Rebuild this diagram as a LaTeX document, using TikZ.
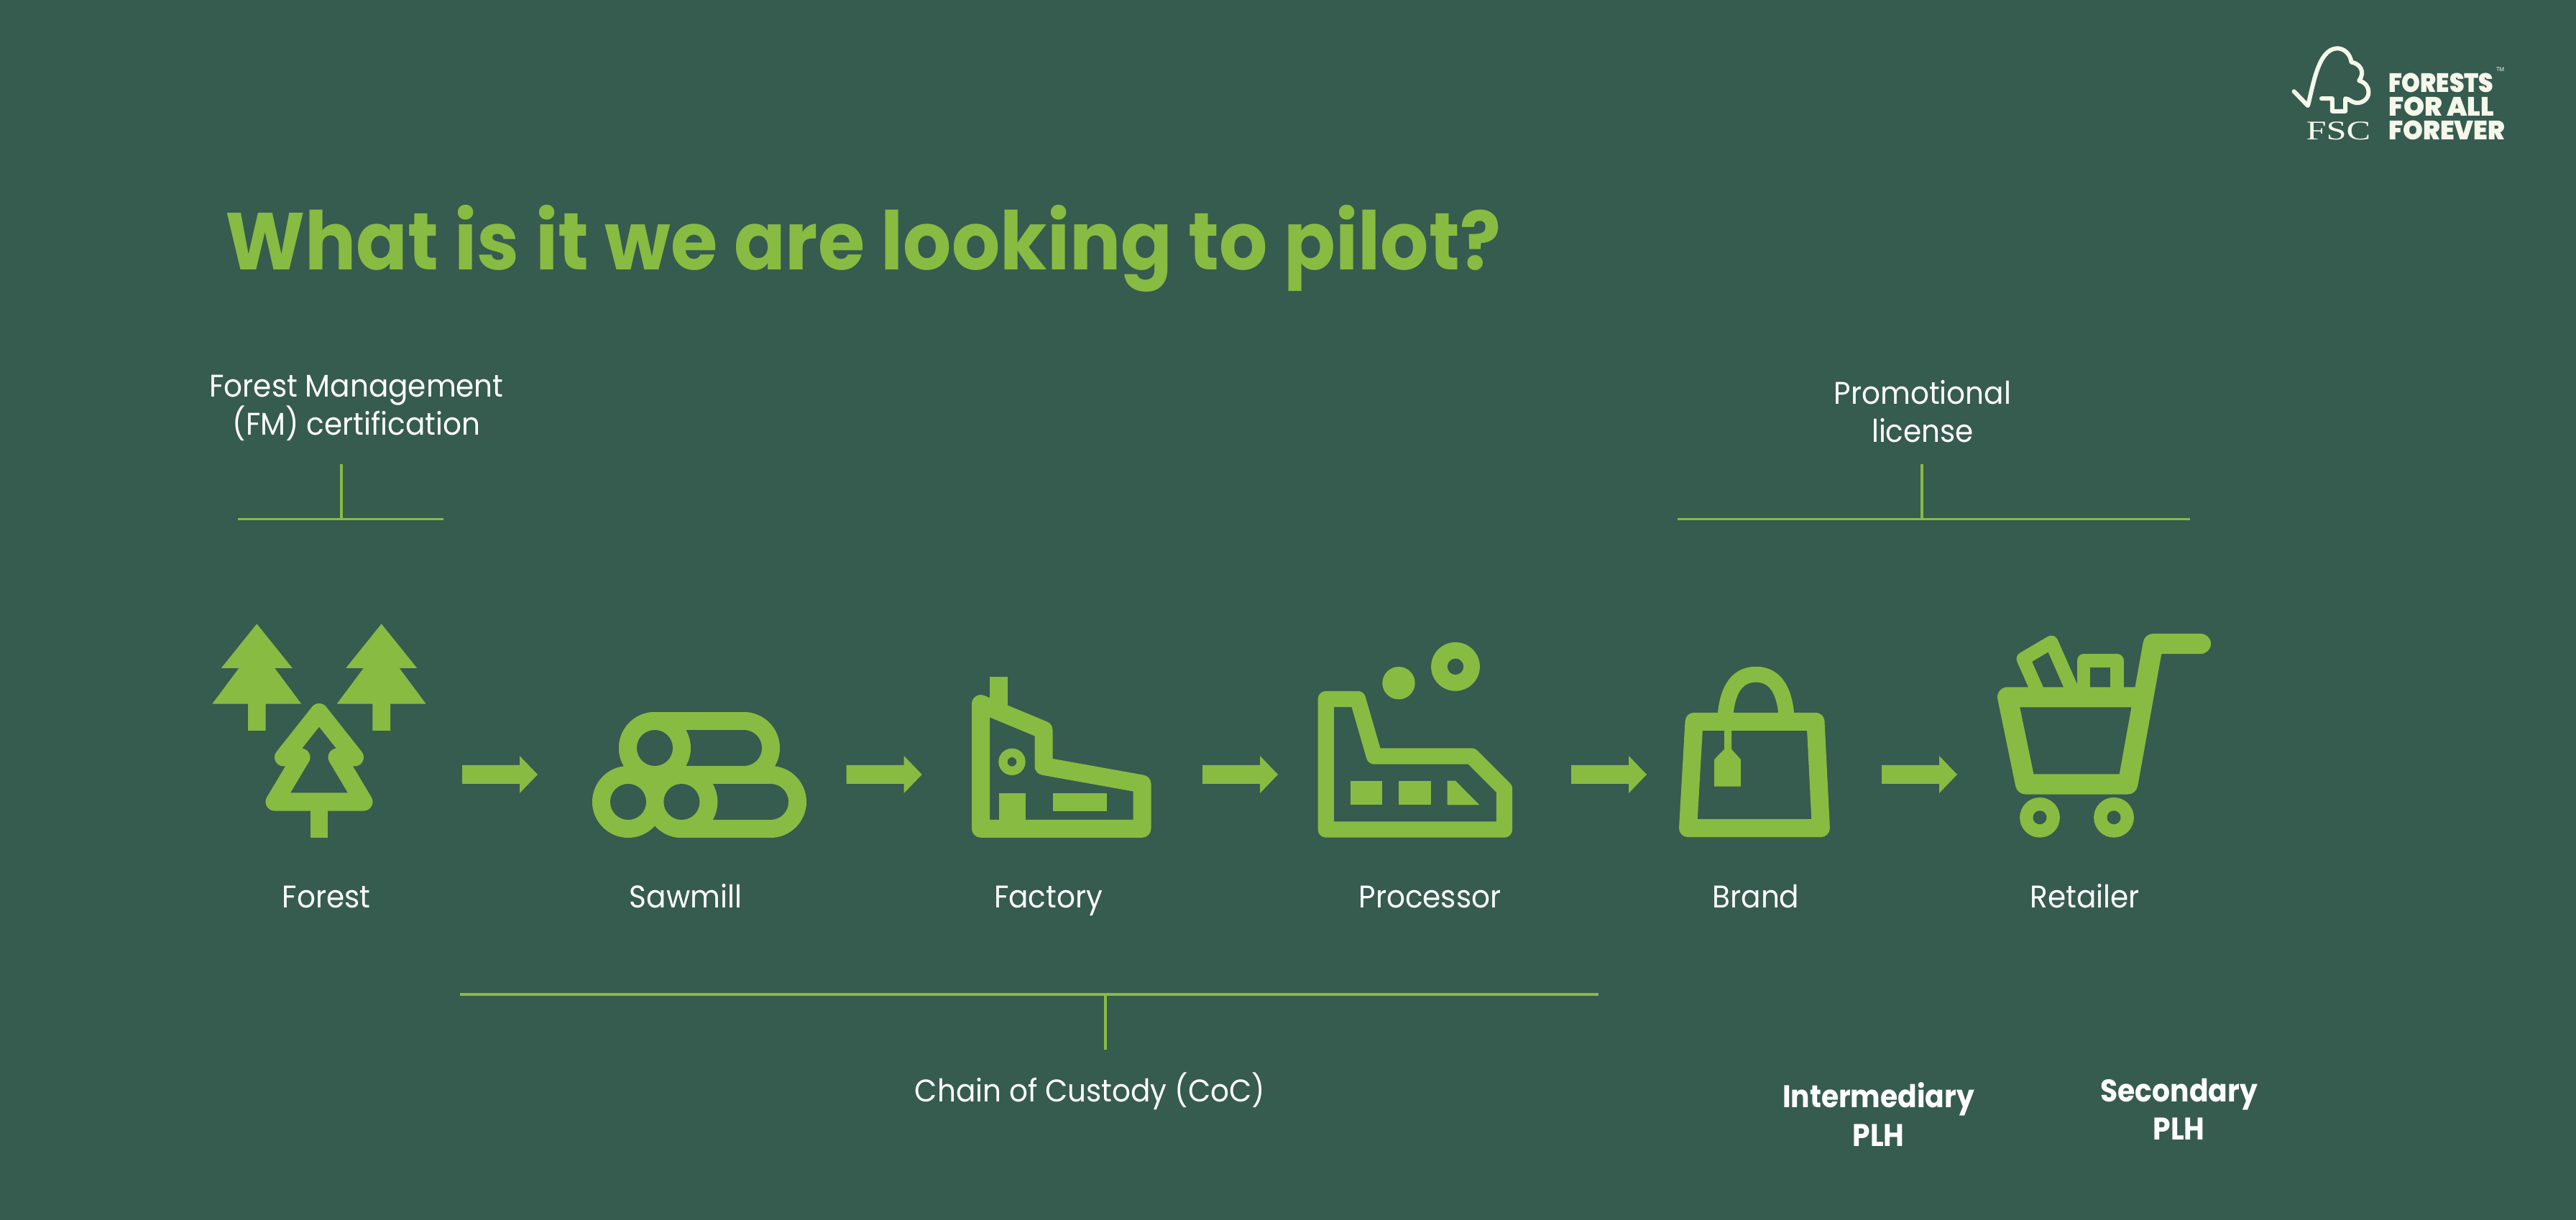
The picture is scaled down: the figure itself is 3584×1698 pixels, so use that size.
\documentclass[tikz,border=0pt]{standalone}
\usepackage{fontspec}
\setmainfont{Poppins}[FakeStretch=0.93]
\newfontfamily\titlefont{Poppins}[FakeStretch=0.94]
\newfontfamily\strongfont{Poppins}[FakeStretch=0.9]
\newfontfamily\logofont{Poppins Black}
\newfontfamily\fscfont{Liberation Serif}
\definecolor{bg}{HTML}{365B4F}
\definecolor{lime}{HTML}{88BB42}
\definecolor{logow}{HTML}{F4F7EA}
\tikzset{
  bare/.style={inner sep=0pt,outer sep=0pt},
  label/.style={bare,text=white,align=center,font=\fontsize{12.4}{15.25}\selectfont},
  oneline/.style={label,anchor=base},
  strong/.style={bare,text=white,align=center,font=\strongfont\fontsize{12.4}{15.25}\selectfont\bfseries},
  rule/.style={draw=lime,line width=1.05pt},
  ico/.style={draw=lime,line join=round,line cap=round},
  solid/.style={fill=lime,draw=none},
  hole/.style={fill=bg,draw=none},
  flow/.style={fill=lime,draw=none},
  logoln/.style={draw=logow,line width=1.7pt,line join=round,line cap=round},
  logotx/.style={bare,anchor=base west,text=logow,font=\logofont\fontsize{10.5}{11}\selectfont},
}
\newcommand{\arrowat}[2]{\fill[flow] (#1,#2-13)--(#1+80,#2-13)--(#1+80,#2-26)--(#1+105,#2)--(#1+80,#2+26)--(#1+80,#2+13)--(#1,#2+13)--cycle;}
\newcommand{\pine}[1]{\fill[solid] (#1,868.3)--(#1+49.6,930)--(#1+25,930)--(#1+62,979.7)--(#1+12.3,979.7)--(#1+12.3,1017)--(#1-12.3,1017)--(#1-12.3,979.7)--(#1-62,979.7)--(#1-25,930)--(#1-49.6,930)--cycle;}
\begin{document}
\begin{tikzpicture}[x=0.01cm,y=-0.01cm]
\fill[bg] (0,0) rectangle (3584,1698);
\useasboundingbox (0,0) rectangle (3584,1698);

% title
\node[bare,anchor=base west,text=lime,font=\titlefont\fontsize{32}{40}\selectfont\bfseries] (title) at (313,376) {What is it we are looking to pilot?};

% brackets
\coordinate (fmL) at (331,722.5); \coordinate (fmR) at (617,722.5); \coordinate (fmM) at (475,722.5); \coordinate (fmT) at (475,646);
\draw[rule] (fmL)--(fmR); \draw[rule] (fmM)--(fmT);
\coordinate (plL) at (2334,722.5); \coordinate (plR) at (3047,722.5); \coordinate (plM) at (2674,722.5); \coordinate (plT) at (2674,646);
\draw[rule] (plL)--(plR); \draw[rule] (plM)--(plT);
\coordinate (ccL) at (640,1384); \coordinate (ccR) at (2224,1384); \coordinate (ccM) at (1538,1384); \coordinate (ccB) at (1538,1461);
\draw[rule] (ccL)--(ccR); \draw[rule] (ccM)--(ccB);

% labels
\node[label] (fm) at (496,568) {Forest Management\\(FM) certification};
\node[label] (promo) at (2675,572.5) {Promotional\\license};
\node[oneline] (forest) at (454,1263.3) {Forest};
\node[oneline] (sawmill) at (954,1263.3) {Sawmill};
\node[oneline] (factory) at (1458.6,1263.3) {Factory};
\node[oneline] (processor) at (1989.5,1263.3) {Processor};
\node[oneline] (brand) at (2443,1263.3) {Brand};
\node[oneline] (retailer) at (2900.7,1263.3) {Retailer};
\node[oneline] (coc) at (1516.4,1533.3) {Chain of Custody (CoC)};
\node[strong] (inter) at (2613.6,1551) {Intermediary\\PLH};
\node[strong] (second) at (3031.7,1544) {Secondary\\PLH};

% arrows
\arrowat{643}{1078}
\arrowat{1177.7}{1078}
\arrowat{1673}{1078}
\arrowat{2186}{1078}
\arrowat{2618}{1078}

% forest
\pine{357.3}
\pine{530.7}
\draw[ico,line width=7.11pt] (444,991.5)--(394.5,1054)--(419,1054)--(382,1116)--(506,1116)--(469,1054)--(493.5,1054)--cycle;
\fill[solid] (431.6,1116) rectangle (456.4,1165.7);

% sawmill logs
\fill[solid] (911,991) rectangle (1035,1091);
\fill[solid] (911,1041) circle[radius=50];
\fill[solid] (1035,1041) circle[radius=50];
\fill[solid] (948.4,1066) rectangle (1072,1166);
\fill[solid] (948.4,1116) circle[radius=50];
\fill[solid] (1072,1116) circle[radius=50];
\fill[solid] (874,1116) circle[radius=50];
\fill[hole] (911,1016) rectangle (1035,1066);
\fill[hole] (1035,1041) circle[radius=25];
\fill[solid] (911,1041) circle[radius=50];
\fill[hole] (911,1041) circle[radius=25];
\fill[hole] (948.4,1091) rectangle (1072,1141);
\fill[hole] (1072,1116) circle[radius=25];
\fill[solid] (948.4,1116) circle[radius=50];
\fill[hole] (948.4,1116) circle[radius=25];
\fill[hole] (874,1116) circle[radius=25];

% factory
\draw[ico,line width=7.11pt] (1364.5,979.6)--(1452,1016)--(1452,1066.4)--(1589,1091)--(1589,1153.3)--(1364.5,1153.3)--cycle;
\fill[solid] (1376.9,942) rectangle (1402,990);
\fill[solid] (1408,1060.3) circle[radius=18.7];
\fill[hole] (1408,1060.3) circle[radius=6.3];
\fill[solid] (1389.5,1103.7) rectangle (1426.8,1145);
\fill[solid] (1464.7,1103.7) rectangle (1540,1128.7);

% processor
\draw[ico,line width=6.37pt] (1844.7,973)--(1889,973)--(1912,1052.5)--(2047.5,1052.5)--(2093,1098)--(2093,1154.5)--(1844.7,1154.5)--cycle;
\fill[solid] (1878.6,1086.7) rectangle (1923.3,1120.3);
\fill[solid] (1946.3,1086.7) rectangle (1991,1120.3);
\fill[solid] (2013.5,1086.7)--(2025,1086.7)--(2058.3,1120.3)--(2013.5,1120.3)--cycle;
\fill[solid] (1946,950.7) circle[radius=22.7];
\fill[solid] (2025,927.8) circle[radius=33.9];
\fill[hole] (2025,927.8) circle[radius=11.2];

% bag
\draw[ico,line width=7.11pt] (2357,1004.3)--(2526,1004.3)--(2533.4,1152.7)--(2348.5,1152.7)--cycle;
\draw[draw=lime,line width=6.2pt] (2400,1004) .. controls (2402,955) and (2420,938.7) .. (2443,938.7) .. controls (2466,938.7) and (2484,955) .. (2486,1004);
\fill[solid] (2399.2,1017)--(2409,1017)--(2409,1042.7)--(2421.9,1057)--(2421.9,1094.7)--(2385,1094.7)--(2385,1057)--(2399.2,1042.7)--cycle;

% cart
\draw[ico,line width=5.4pt] (2834,960)--(2815,917)--(2854,894)--(2883,960);
\draw[ico,line width=5.3pt] (2899,960)--(2899,919.5)--(2945.5,919.5)--(2945.5,960);
\draw[ico,line width=7.97pt] (3062,896)--(2995.6,896)--(2960.4,1091.5)--(2818,1091.5)--(2793,970.3)--(2982,970.3);
\fill[solid] (2838,1137.8) circle[radius=27.9];
\fill[hole] (2838,1137.8) circle[radius=9.5];
\fill[solid] (2941,1137.8) circle[radius=27.9];
\fill[hole] (2941,1137.8) circle[radius=9.5];

% logo
\begin{scope}[shift={(3150,40)},x=0.00333333cm,y=-0.00333333cm]
\draw[logoln] (125,262)--(183,322) .. controls (205,240) and (225,85) .. (305,82) .. controls (335,82) and (360,105) .. (365,140) .. controls (400,145) and (425,180) .. (397,217) .. controls (425,225) and (437,245) .. (437,265) .. controls (437,295) and (410,312) .. (385,310) .. controls (365,308) and (355,292) .. (340,292) -- (340,345) -- (285,345) -- (285,292) -- (240,292);
\end{scope}
\node[bare,anchor=base west,text=logow,font=\fscfont\fontsize{10.7}{12}\selectfont] (fsc) at (3208.5,195) {\scalebox{1.34}[1]{FSC}};
\node[logotx] (l1) at (3323,128.3) {\scalebox{0.89}[1]{FORESTS}};
\node[logotx] (l2) at (3323,161.7) {FOR ALL};
\node[logotx] (l3) at (3323,195) {\scalebox{0.96}[1]{FOREVER}};
\node[bare,anchor=base west,text=logow,font=\fontsize{2.4}{3}\selectfont] (tm) at (3473,100) {TM};
\end{tikzpicture}
\end{document}
